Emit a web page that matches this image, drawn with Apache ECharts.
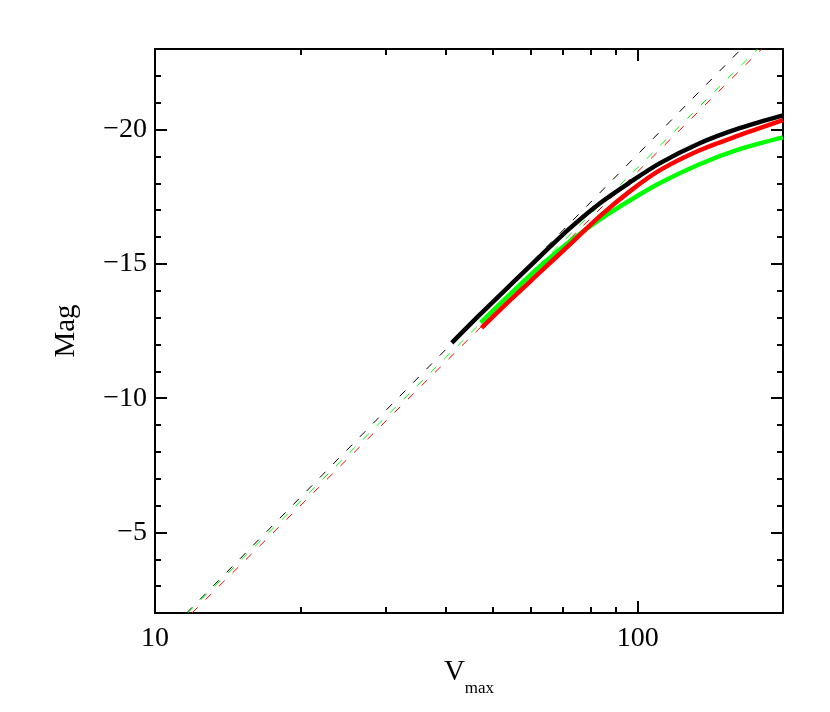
<!DOCTYPE html>
<html>
<head>
<meta charset="utf-8">
<script src="https://cdn.jsdelivr.net/npm/echarts@6/dist/echarts.min.js"></script>
<style>
html,body{margin:0;padding:0;background:#fff;}
#main{width:830px;height:712px;}
</style>
</head>
<body>
<div id="main"></div>
<script>
// ---- data ----
const blackSolidV = [41.2, 47.1, 54.3, 62.7, 72.3, 83.4, 96.3, 111.0, 134.4, 162.6, 200];
const blackSolidM = [-12.06, -13.11, -14.19, -15.27, -16.32, -17.25, -18.03, -18.74, -19.49, -20.05, -20.53];
const redSolidV = [47.5, 54.3, 62.7, 72.3, 83.4, 96.3, 111.0, 134.4, 162.6, 200];
const redSolidM = [-12.62, -13.63, -14.68, -15.72, -16.77, -17.70, -18.48, -19.23, -19.79, -20.35];
const greenSolidV = [47.3, 54.3, 62.7, 72.3, 83.4, 96.3, 111.0, 134.4, 162.6, 200];
const greenSolidM = [-12.81, -13.85, -14.90, -15.83, -16.65, -17.36, -18.00, -18.71, -19.27, -19.71];
const blackDashV = [11.63, 163.9];
const blackDashM = [-2, -23];
const greenDashV = [11.68, 177.2];
const greenDashM = [-2, -23];
const redDashV = [11.93, 180.6];
const redDashM = [-2, -23];

const xLabelValues = [10, 100];
const xMajorTicks = [10, 100];
const xMinorTicks = [20, 30, 40, 50, 60, 70, 80, 90, 200];
const yMajorTicks = [-20, -15, -10, -5];
const yMinorTicks = [-23, -22, -21, -19, -18, -17, -16, -14, -13, -12, -11, -9, -8, -7, -6, -4, -3, -2];

const FONT = 'Liberation Serif';
const pair = (xs, ys) => xs.map((x, i) => [x, ys[i]]);

const chart = echarts.init(document.getElementById('main'), null, {renderer: 'canvas'});

function xAx(pos, ticks, len, showLine, labels) {
  return {
    type: 'log', logBase: 10, min: 10, max: 200, position: pos, gridIndex: 0,
    axisLine: {show: showLine, lineStyle: {color: '#000', width: 2}},
    axisTick: {show: true, inside: true, length: len, customValues: ticks, lineStyle: {color: '#000', width: 2}},
    axisLabel: labels ? {show: true, customValues: xLabelValues, fontFamily: FONT, fontSize: 28, color: '#000', margin: 12} : {show: false},
    splitLine: {show: false},
    minorTick: {show: false}
  };
}
function yAx(pos, ticks, len, showLine, labels) {
  return {
    type: 'value', min: -23, max: -2, inverse: true, position: pos, gridIndex: 0,
    axisLine: {show: showLine, lineStyle: {color: '#000', width: 2}},
    axisTick: {show: true, inside: true, length: len, customValues: ticks, lineStyle: {color: '#000', width: 2}},
    axisLabel: labels ? {show: true, customValues: yMajorTicks, fontFamily: FONT, fontSize: 28, color: '#000', margin: 8,
      formatter: v => (v < 0 ? '\u2212' : '') + Math.abs(v)} : {show: false},
    splitLine: {show: false}
  };
}

const xa0 = xAx('bottom', xMajorTicks, 12, true, true);
xa0.name = '{v|V}{s|max}';
xa0.nameLocation = 'middle';
xa0.nameGap = 35;
xa0.nameTextStyle = {
  color: '#000', fontFamily: FONT, fontSize: 29,
  rich: {
    v: {fontFamily: FONT, fontSize: 29, color: '#000'},
    s: {fontFamily: FONT, fontSize: 17, color: '#000', padding: [32, 0, 0, 0]}
  }
};
const ya0 = yAx('left', yMajorTicks, 12, true, true);
ya0.name = 'Mag';
ya0.nameLocation = 'middle';
ya0.nameGap = 74;
ya0.nameTextStyle = {color: '#000', fontFamily: FONT, fontSize: 29};

const dashStyle = c => ({color: c, width: 1, type: [8, 11]});

chart.setOption({
  backgroundColor: '#fff',
  animation: false,
  grid: {left: 155, right: 47, top: 49, bottom: 99, containLabel: false},
  xAxis: [
    xa0,
    xAx('top', xMajorTicks, 12, true, false),
    xAx('bottom', xMinorTicks, 6, false, false),
    xAx('top', xMinorTicks, 6, false, false)
  ],
  yAxis: [
    ya0,
    yAx('right', yMajorTicks, 12, true, false),
    yAx('left', yMinorTicks, 6, false, false),
    yAx('right', yMinorTicks, 6, false, false)
  ],
  series: [
    {type: 'line', data: pair(blackDashV, blackDashM), showSymbol: false, lineStyle: dashStyle('#000'), z: 2},
    {type: 'line', data: pair(greenDashV, greenDashM), showSymbol: false, lineStyle: dashStyle('#00ff00'), z: 3},
    {type: 'line', data: pair(redDashV, redDashM), showSymbol: false, lineStyle: dashStyle('#ff0000'), z: 3},
    {type: 'line', data: pair(greenSolidV, greenSolidM), showSymbol: false, smooth: 0.3, lineStyle: {color: '#00ff00', width: 4.5}, z: 4},
    {type: 'line', data: pair(redSolidV, redSolidM), showSymbol: false, smooth: 0.3, lineStyle: {color: '#ff0000', width: 4.5}, z: 5},
    {type: 'line', data: pair(blackSolidV, blackSolidM), showSymbol: false, smooth: 0.3, lineStyle: {color: '#000', width: 4.5}, z: 6}
  ]
});
</script>
</body>
</html>
